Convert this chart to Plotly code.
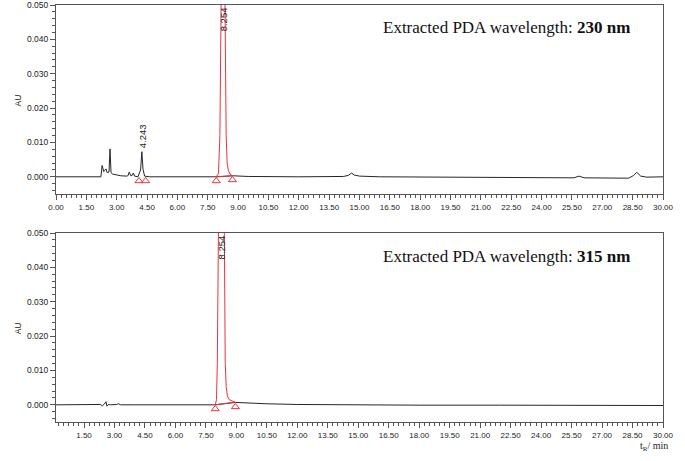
import plotly.graph_objects as go
from plotly.subplots import make_subplots

# ---------------- data: 230 nm ----------------
t230 = [0.0, 1.0, 2.0, 2.22, 2.28, 2.36, 2.41, 2.47, 2.53, 2.62, 2.67, 2.72, 2.8, 2.95, 3.2,
        3.5, 3.57, 3.62, 3.7, 3.76, 3.82, 3.88, 4.05, 4.18, 4.243, 4.30, 4.38, 4.6, 6.0, 7.92,
        8.72, 9.5, 12.0, 14.2, 14.45, 14.6, 14.75, 15.0, 16.0, 20.0, 25.6, 25.85, 26.1, 28.3,
        28.55, 28.7, 28.9, 29.2, 30.0]
au230 = [0.0000, 0.0000, -0.0001, 0.0000, 0.0033, 0.0015, 0.0019, 0.0023, 0.0012, 0.0014, 0.0081, 0.0012,
         0.0008, 0.0006, 0.0003, 0.0002, 0.0004, 0.0014, 0.0003, 0.0004, 0.0011, 0.0002, 0.0000, 0.0020,
         0.0073, 0.0022, 0.0002, 0.0000, 0.0000, 0.0000, 0.0003, 0.0001, 0.0000, 0.0001, 0.0004, 0.0011,
         0.0005, 0.0002, 0.0000, -0.0001, -0.0003, 0.0002, -0.0003, -0.0004, 0.0004, 0.0013, 0.0002,
         -0.0001, 0.0000]
peak230_t = [7.92, 8.03, 8.1, 8.15, 8.2, 8.254, 8.31, 8.36, 8.41, 8.46, 8.52, 8.6, 8.72]
peak230_au = [0.0000, 0.0010, 0.012, 0.045, 0.075, 0.085, 0.075, 0.045, 0.012, 0.004, 0.0018, 0.0008, 0.0003]
base230_t = [7.92, 8.72]
base230_au = [0.0000, 0.0003]
marks230_t = [4.10, 4.43, 7.92, 8.72]
marks230_au = [-0.0012, -0.0012, -0.0012, -0.0009]

# ---------------- data: 315 nm ----------------
t315 = [0.12, 1.0, 2.0, 2.3, 2.4, 2.5, 2.58, 2.63, 2.7, 2.8, 3.1, 3.2, 3.3, 3.9, 4.0, 5.0,
        7.96, 8.95, 9.5, 10.5, 12.0, 14.0, 18.0, 22.0, 26.0, 30.0]
au315 = [0.0000, 0.0000, 0.0000, 0.0001, -0.0003, 0.0002, 0.0009, -0.0004, 0.0001, 0.0000, 0.0001,
         0.0003, 0.0000, 0.0001, 0.0000, 0.0000, 0.0000, 0.0007, 0.0005, 0.0003, 0.0001, 0.0000,
         -0.0001, -0.0001, -0.0001, -0.0002]
peak315_t = [7.96, 8.02, 8.06, 8.1, 8.16, 8.26, 8.36, 8.41, 8.45, 8.5, 8.56, 8.65, 8.8, 8.95]
peak315_au = [0.0000, 0.0015, 0.012, 0.048, 0.08, 0.09, 0.075, 0.048, 0.012, 0.005, 0.0025, 0.0015, 0.0010, 0.0007]
base315_t = [7.96, 8.95]
base315_au = [0.0000, 0.0008]
marks315_t = [7.96, 8.95]
marks315_au = [-0.0012, -0.0006]

y_ticks = [0.0, 0.01, 0.02, 0.03, 0.04, 0.05]
BLACK = "#262626"
RED = "#e8343c"
AX = "#555555"

fig = make_subplots(rows=2, cols=1)

def add_panel(row, t, au, pt, pau, bt, bau, mt, mau):
    fig.add_trace(go.Scatter(x=t, y=au, mode="lines", line=dict(color=BLACK, width=1),
                             showlegend=False, hoverinfo="skip"), row=row, col=1)
    fig.add_trace(go.Scatter(x=pt, y=pau, mode="lines", line=dict(color=RED, width=1),
                             showlegend=False, hoverinfo="skip"), row=row, col=1)
    fig.add_trace(go.Scatter(x=bt, y=bau, mode="lines", line=dict(color=RED, width=1),
                             showlegend=False, hoverinfo="skip"), row=row, col=1)
    fig.add_trace(go.Scatter(x=mt, y=mau, mode="markers",
                             marker=dict(symbol="triangle-up-open", size=7, color=RED,
                                         line=dict(width=1, color=RED)),
                             showlegend=False, hoverinfo="skip"), row=row, col=1)

add_panel(1, t230, au230, peak230_t, peak230_au, base230_t, base230_au, marks230_t, marks230_au)
add_panel(2, t315, au315, peak315_t, peak315_au, base315_t, base315_au, marks315_t, marks315_au)

sans = "Liberation Sans, Arial"
xcommon = dict(showgrid=False, zeroline=False, showline=True, linecolor=AX, linewidth=1, mirror=True,
               automargin=False, ticklabeloverflow="allow",
               ticks="outside", ticklen=5, tickcolor=AX, tick0=0, dtick=1.5, tickformat=".2f",
               tickfont=dict(family=sans, size=8, color="#222"),
               minor=dict(ticks="outside", ticklen=3, dtick=0.25, tickcolor=AX))
ycommon = dict(showgrid=False, zeroline=False, showline=True, linecolor=AX, linewidth=1, mirror=True,
               automargin=False, ticklabeloverflow="allow",
               ticks="outside", ticklen=5, tickcolor=AX, tickvals=y_ticks, tickformat=".3f",
               range=[-0.005, 0.0500001],
               tickfont=dict(family=sans, size=8.5, color="#222"),
               minor=dict(ticks="outside", ticklen=3, dtick=0.002, tickcolor=AX))

fig.update_layout(
    width=685, height=461,
    margin=dict(l=56, r=22, t=5, b=39),
    paper_bgcolor="white", plot_bgcolor="white",
    xaxis=dict(xcommon, domain=[0, 1], range=[0, 30], anchor="y"),
    yaxis=dict(ycommon, domain=[0.5468, 1], anchor="x"),
    xaxis2=dict(xcommon, domain=[0, 1], range=[0.12, 30], anchor="y2"),
    yaxis2=dict(ycommon, domain=[0, 0.4532], anchor="x2"),
)

# axis titles
for yy in (0.772, 0.2254):
    fig.add_annotation(xref="paper", yref="paper", x=-0.062, y=yy, xanchor="center", yanchor="middle",
                       text="AU", textangle=-90, showarrow=False,
                       font=dict(family=sans, size=8.5, color="#222"))

serif = "Liberation Serif, Times New Roman, serif"
fig.add_annotation(xref="paper", yref="paper", x=0.949, y=0.945, xanchor="right", yanchor="middle",
                   text="Extracted PDA wavelength: <b>230 nm</b>", showarrow=False,
                   font=dict(family=serif, size=17, color="#111"))
fig.add_annotation(xref="paper", yref="paper", x=0.949, y=0.396, xanchor="right", yanchor="middle",
                   text="Extracted PDA wavelength: <b>315 nm</b>", showarrow=False,
                   font=dict(family=serif, size=17, color="#111"))
fig.add_annotation(xref="paper", yref="paper", x=0.985, y=-0.058, xanchor="center", yanchor="middle",
                   text="t<sub>R</sub>/ min", showarrow=False,
                   font=dict(family=serif, size=10, color="#222"))

lab = dict(family=sans, size=9.5, color="#222")
fig.add_annotation(xref="x", yref="y", x=4.243, y=0.0077, textangle=-90, xanchor="center",
                   yanchor="bottom", text="4.243", showarrow=False, font=lab)
fig.add_annotation(xref="x", yref="y", x=8.27, y=0.050, textangle=-90, xanchor="center",
                   yanchor="top", text="8.254", showarrow=False, font=lab)
fig.add_annotation(xref="x2", yref="y2", x=8.26, y=0.050, textangle=-90, xanchor="center",
                   yanchor="top", text="8.254", showarrow=False, font=lab)

fig.write_html("out.html", config={"displayModeBar": False},
               post_script="document.body.style.margin='0';document.body.style.overflow='hidden';")
